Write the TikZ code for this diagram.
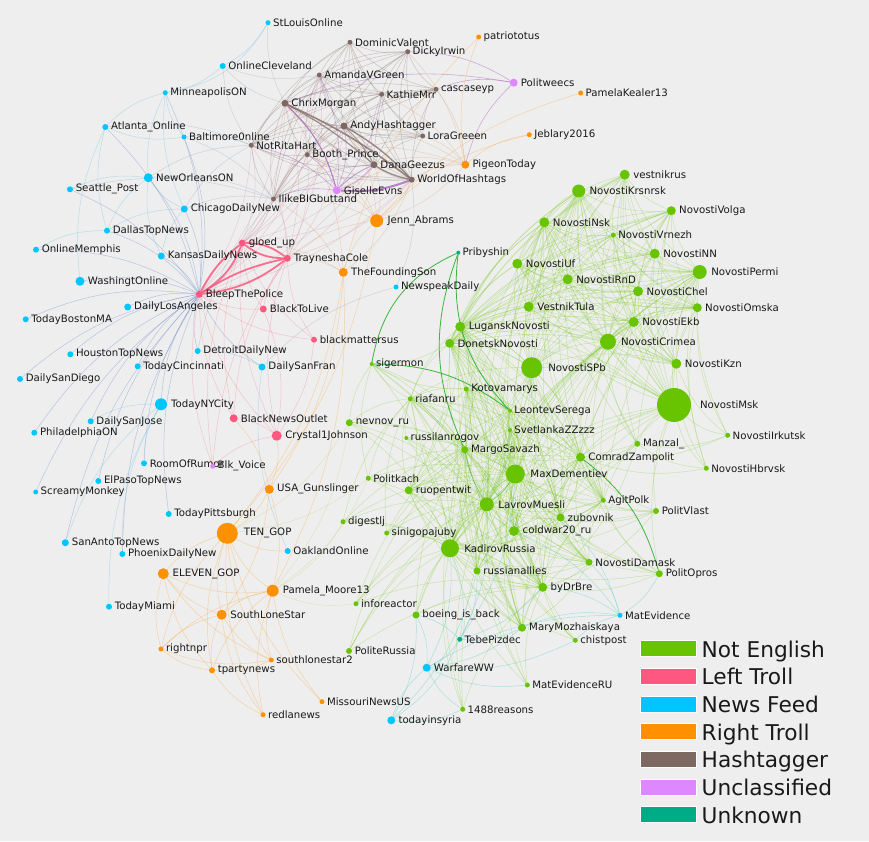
\documentclass[tikz,border=0pt]{standalone}
\usepackage{fontspec}
\setmainfont{DejaVu Sans}
\pgfdeclarelayer{bg}
\pgfsetlayers{bg,main}
\definecolor{bgc}{RGB}{238,238,238}
\definecolor{cG}{RGB}{104,196,0}
\definecolor{cP}{RGB}{255,88,128}
\definecolor{cB}{RGB}{0,198,255}
\definecolor{cO}{RGB}{255,145,0}
\definecolor{cH}{RGB}{126,104,98}
\definecolor{cV}{RGB}{222,136,255}
\definecolor{cT}{RGB}{0,172,134}
\definecolor{txt}{RGB}{25,25,25}
\tikzset{
  dot/.style={circle,inner sep=0pt,outer sep=0pt,draw=none},
  lbl/.style={inner sep=0pt,text=txt,font=\fontsize{10.2}{12}\selectfont},
  eG/.style={draw=cG,draw opacity=0.28,line width=0.5pt},
  eGd/.style={draw={rgb,255:red,40;green,175;blue,40},draw opacity=0.9,line width=0.8pt},
  eH/.style={draw=cH,draw opacity=0.32,line width=0.5pt},
  eV/.style={draw={rgb,255:red,170;green,100;blue,190},draw opacity=0.5,line width=0.6pt},
  eHP/.style={draw={rgb,255:red,200;green,120;blue,140},draw opacity=0.28,line width=0.5pt},
  eHO/.style={draw={rgb,255:red,215;green,150;blue,100},draw opacity=0.32,line width=0.5pt},
  eP/.style={draw=cP,draw opacity=0.3,line width=0.5pt},
  ePk/.style={draw=cP,draw opacity=0.85,line width=1.8pt},
  eB/.style={draw={rgb,255:red,120;green,200;blue,230},draw opacity=0.45,line width=0.5pt},
  eBP/.style={draw={rgb,255:red,110;green,130;blue,200},draw opacity=0.4,line width=0.5pt},
  eBH/.style={draw={rgb,255:red,120;green,150;blue,170},draw opacity=0.3,line width=0.5pt},
  eO/.style={draw=cO,draw opacity=0.3,line width=0.5pt},
  eOG/.style={draw={rgb,255:red,190;green,190;blue,60},draw opacity=0.25,line width=0.5pt},
  eT/.style={draw={rgb,255:red,90;green,205;blue,195},draw opacity=0.45,line width=0.5pt},
  legbox/.style={rectangle,minimum width=56pt,minimum height=16pt,inner sep=0pt,draw=white,line width=1pt},
  legtxt/.style={inner sep=0pt,anchor=base west,text=txt,font=\fontsize{21.7}{24}\selectfont}
}
\newcommand\nd[6]{\pgfmathsetmacro\ldist{0.45*#5+1.2}%
  \node[dot,fill=#6,minimum size={2*#5pt},label={[lbl,label distance=\ldist pt]0:#2}] (#1) at (#3,#4) {};}
\newcommand\clq[2]{\foreach \ea [count=\ci] in {#2}{\foreach \eb [count=\cj] in {#2}{\ifnum\cj>\ci\relax\draw[#1] (\ea) to[bend right=15] (\eb);\fi}}}
\newcommand\bip[3]{\foreach \ea in {#2}{\foreach \eb in {#3}{\draw[#1] (\ea) to[bend right=15] (\eb);}}}
\begin{document}
\begin{tikzpicture}[x=1pt,y=-1pt]
\useasboundingbox (0,0) rectangle (869,841);
\begin{pgfonlayer}{bg}
\fill[bgc] (0,0) rectangle (869,841);
\end{pgfonlayer}
% ---------- news feed
\nd{StLouisOnline}{StLouisOnline}{268}{22.7}{2.5}{cB}
\nd{OnlineCleveland}{OnlineCleveland}{222.7}{66}{3}{cB}
\nd{MinneapolisON}{MinneapolisON}{165.3}{92.7}{2.5}{cB}
\nd{Atlanta_Online}{Atlanta\_Online}{105.3}{127}{3}{cB}
\nd{Baltimore0nline}{Baltimore0nline}{184}{137}{2.5}{cB}
\nd{NewOrleansON}{NewOrleansON}{148.3}{177.7}{4.5}{cB}
\nd{Seattle_Post}{Seattle\_Post}{70}{189.3}{3}{cB}
\nd{ChicagoDailyNew}{ChicagoDailyNew}{184.3}{209}{3.5}{cB}
\nd{DallasTopNews}{DallasTopNews}{107}{230.7}{3}{cB}
\nd{OnlineMemphis}{OnlineMemphis}{36}{249.7}{3}{cB}
\nd{KansasDailyNews}{KansasDailyNews}{161.3}{256}{3.5}{cB}
\nd{WashingtOnline}{WashingtOnline}{80}{281.3}{4.5}{cB}
\nd{DailyLosAngeles}{DailyLosAngeles}{127.7}{307}{3.5}{cB}
\nd{TodayBostonMA}{TodayBostonMA}{25.7}{319.3}{3}{cB}
\nd{HoustonTopNews}{HoustonTopNews}{70.3}{354.3}{3}{cB}
\nd{DetroitDailyNew}{DetroitDailyNew}{197.7}{351}{3}{cB}
\nd{TodayCincinnati}{TodayCincinnati}{137.7}{366.3}{3}{cB}
\nd{DailySanFran}{DailySanFran}{262}{367}{3.5}{cB}
\nd{DailySanDiego}{DailySanDiego}{20}{379}{3}{cB}
\nd{TodayNYCity}{TodayNYCity}{161}{404.3}{6}{cB}
\nd{DailySanJose}{DailySanJose}{90.7}{421.3}{3}{cB}
\nd{PhiladelphiaON}{PhiladelphiaON}{34.3}{432.7}{3}{cB}
\nd{RoomOfRumor}{RoomOfRumor}{144}{463.3}{3}{cB}
\nd{ElPasoTopNews}{ElPasoTopNews}{98.3}{481}{3}{cB}
\nd{ScreamyMonkey}{ScreamyMonkey}{35.7}{492}{2.5}{cB}
\nd{TodayPittsburgh}{TodayPittsburgh}{168.7}{514}{3}{cB}
\nd{SanAntoTopNews}{SanAntoTopNews}{65.3}{542.7}{3.5}{cB}
\nd{PhoenixDailyNew}{PhoenixDailyNew}{122.3}{554}{3}{cB}
\nd{OaklandOnline}{OaklandOnline}{287.7}{551}{3}{cB}
\nd{TodayMiami}{TodayMiami}{109}{606.7}{3}{cB}
\nd{NewspeakDaily}{NewspeakDaily}{396}{287}{2.5}{cB}
\nd{MatEvidence}{MatEvidence}{620}{615.3}{2.5}{cB}
\nd{WarfareWW}{WarfareWW}{426.7}{667.7}{4}{cB}
\nd{todayinsyria}{todayinsyria}{391.3}{720.3}{4}{cB}
% ---------- left troll
\nd{gloed_up}{gloed\_up}{242.3}{243}{3.5}{cP}
\nd{TrayneshaCole}{TrayneshaCole}{287.3}{258.3}{3.5}{cP}
\nd{BleepThePolice}{BleepThePolice}{199.3}{294.3}{3.5}{cP}
\nd{BlackToLive}{BlackToLive}{263.3}{309}{3.5}{cP}
\nd{blackmattersus}{blackmattersus}{314}{339.7}{3}{cP}
\nd{BlackNewsOutlet}{BlackNewsOutlet}{233.7}{418.3}{4}{cP}
\nd{Crystal1Johnson}{Crystal1Johnson}{276.7}{435.7}{5}{cP}
% ---------- hashtagger
\nd{DominicValent}{DominicValent}{350}{42.3}{2.5}{cH}
\nd{DickyIrwin}{DickyIrwin}{407.7}{51.7}{2.5}{cH}
\nd{AmandaVGreen}{AmandaVGreen}{319.3}{75}{2.5}{cH}
\nd{KathieMrr}{KathieMrr}{381.7}{94.3}{2.5}{cH}
\nd{cascaseyp}{cascaseyp}{436}{89.3}{2.5}{cH}
\nd{ChrixMorgan}{ChrixMorgan}{285}{103.3}{3.5}{cH}
\nd{AndyHashtagger}{AndyHashtagger}{344}{126}{3.5}{cH}
\nd{LoraGreeen}{LoraGreeen}{422.7}{136}{2.5}{cH}
\nd{NotRitaHart}{NotRitaHart}{251.3}{145.3}{2.5}{cH}
\nd{Booth_Prince}{Booth\_Prince}{307.3}{154.7}{2.5}{cH}
\nd{DanaGeezus}{DanaGeezus}{374}{164.7}{3.5}{cH}
\nd{WorldOfHashtags}{WorldOfHashtags}{411.7}{179.7}{3}{cH}
\nd{IlikeBIGbuttand}{IlikeBIGbuttand}{273.5}{199}{2.5}{cH}
% ---------- unclassified
\nd{Politweecs}{Politweecs}{513.7}{82.7}{4}{cV}
\nd{GiselleEvns}{GiselleEvns}{336.7}{190.3}{4}{cV}
\nd{Blk_Voice}{Blk\_Voice}{212.7}{466.3}{2.5}{cV}
% ---------- right troll
\nd{patriototus}{patriototus}{478.7}{37}{2.5}{cO}
\nd{PamelaKealer13}{PamelaKealer13}{580.7}{93}{2.5}{cO}
\nd{Jeblary2016}{Jeblary2016}{529.3}{134.7}{2.5}{cO}
\nd{PigeonToday}{PigeonToday}{465.3}{164.7}{4}{cO}
\nd{Jenn_Abrams}{Jenn\_Abrams}{376.7}{220.7}{6.5}{cO}
\nd{TheFoundingSon}{TheFoundingSon}{343.3}{272.3}{4.5}{cO}
\nd{USA_Gunslinger}{USA\_Gunslinger}{269.3}{489.3}{4.5}{cO}
\nd{TEN_GOP}{TEN\_GOP}{227.3}{533.3}{10.5}{cO}
\nd{ELEVEN_GOP}{ELEVEN\_GOP}{163.3}{573.7}{5.5}{cO}
\nd{Pamela_Moore13}{Pamela\_Moore13}{272.7}{590.7}{6}{cO}
\nd{SouthLoneStar}{SouthLoneStar}{221.7}{614.7}{5}{cO}
\nd{rightnpr}{rightnpr}{161}{649}{2.5}{cO}
\nd{southlonestar2}{southlonestar2}{271.3}{660}{2.5}{cO}
\nd{tpartynews}{tpartynews}{212}{670.3}{3}{cO}
\nd{redlanews}{redlanews}{263}{714.7}{2.5}{cO}
\nd{MissouriNewsUS}{MissouriNewsUS}{322}{701.7}{2.5}{cO}
% ---------- unknown
\nd{Pribyshin}{Pribyshin}{458.3}{252.7}{2}{cT}
\nd{TebePizdec}{TebePizdec}{459.7}{639.3}{2.5}{cT}
% ---------- not english
\nd{vestnikrus}{vestnikrus}{624.7}{174.7}{5}{cG}
\nd{NovostiKrsnrsk}{NovostiKrsnrsk}{578.7}{191}{6.5}{cG}
\nd{NovostiVolga}{NovostiVolga}{671.3}{210.7}{4.5}{cG}
\nd{NovostiNsk}{NovostiNsk}{544.3}{222.3}{5}{cG}
\nd{NovostiVrnezh}{NovostiVrnezh}{613.3}{235}{2.5}{cG}
\nd{NovostiNN}{NovostiNN}{654.7}{253.7}{5}{cG}
\nd{NovostiUf}{NovostiUf}{517.3}{263.7}{5}{cG}
\nd{NovostiPermi}{NovostiPermi}{699.7}{272}{7}{cG}
\nd{NovostiRnD}{NovostiRnD}{567.7}{279.3}{5}{cG}
\nd{NovostiChel}{NovostiChel}{638}{291.3}{5}{cG}
\nd{VestnikTula}{VestnikTula}{528.7}{306.7}{5}{cG}
\nd{NovostiOmska}{NovostiOmska}{697.3}{307.7}{4.5}{cG}
\nd{NovostiEkb}{NovostiEkb}{633.7}{322}{5}{cG}
\nd{LuganskNovosti}{LuganskNovosti}{460.3}{326.7}{5}{cG}
\nd{NovostiCrimea}{NovostiCrimea}{608}{341.7}{8}{cG}
\nd{DonetskNovosti}{DonetskNovosti}{449.7}{343.3}{4.5}{cG}
\nd{NovostiKzn}{NovostiKzn}{676.3}{363.7}{5}{cG}
\nd{NovostiSPb}{NovostiSPb}{531.7}{367.7}{10.5}{cG}
\nd{sigermon}{sigermon}{371.7}{364}{2}{cG}
\nd{Kotovamarys}{Kotovamarys}{466.3}{389}{2.5}{cG}
\nd{riafanru}{riafanru}{410.3}{398.7}{2.5}{cG}
\nd{NovostiMsk}{NovostiMsk}{674}{405}{17}{cG}
\nd{LeontevSerega}{LeontevSerega}{510}{410.7}{2}{cG}
\nd{nevnov_ru}{nevnov\_ru}{349.3}{422.7}{3.5}{cG}
\nd{SvetlankaZZzzz}{SvetlankaZZzzz}{510}{430}{2}{cG}
\nd{NovostiIrkutsk}{NovostiIrkutsk}{727.7}{435.3}{2.5}{cG}
\nd{russilanrogov}{russilanrogov}{406.3}{438}{2}{cG}
\nd{Manzal_}{Manzal\_}{637.3}{443.7}{3}{cG}
\nd{MargoSavazh}{MargoSavazh}{464.7}{449.7}{3.5}{cG}
\nd{ComradZampolit}{ComradZampolit}{580.5}{457.2}{4.5}{cG}
\nd{MaxDementiev}{MaxDementiev}{515.3}{474}{9.5}{cG}
\nd{NovostiHbrvsk}{NovostiHbrvsk}{706.3}{468.3}{2.5}{cG}
\nd{Politkach}{Politkach}{368.3}{478.3}{2.5}{cG}
\nd{ruopentwit}{ruopentwit}{408.7}{490.3}{4}{cG}
\nd{AgitPolk}{AgitPolk}{603.3}{500.3}{2.5}{cG}
\nd{LavrovMuesli}{LavrovMuesli}{486.8}{504.3}{7}{cG}
\nd{PolitVlast}{PolitVlast}{656}{511}{3}{cG}
\nd{zubovnik}{zubovnik}{560.5}{517.5}{4}{cG}
\nd{digestlj}{digestlj}{343}{521.7}{2.5}{cG}
\nd{coldwar20_ru}{coldwar20\_ru}{514}{531}{5}{cG}
\nd{sinigopajuby}{sinigopajuby}{386.7}{533}{2.5}{cG}
\nd{KadirovRussia}{KadirovRussia}{450}{548.3}{9}{cG}
\nd{NovostiDamask}{NovostiDamask}{589}{562.3}{3.5}{cG}
\nd{russianallies}{russianallies}{477}{571}{3.5}{cG}
\nd{PolitOpros}{PolitOpros}{659.3}{573.7}{3.5}{cG}
\nd{byDrBre}{byDrBre}{542.7}{587.3}{4.5}{cG}
\nd{inforeactor}{inforeactor}{356}{603.7}{2.5}{cG}
\nd{boeing_is_back}{boeing\_is\_back}{416}{615}{3.5}{cG}
\nd{MaryMozhaiskaya}{MaryMozhaiskaya}{522}{627.7}{4}{cG}
\nd{chistpost}{chistpost}{575.3}{640.3}{2.5}{cG}
\nd{PoliteRussia}{PoliteRussia}{349}{651}{3}{cG}
\nd{MatEvidenceRU}{MatEvidenceRU}{527.3}{685}{2.5}{cG}
\nd{1488reasons}{1488reasons}{462.7}{709.3}{2.5}{cG}
% ---------- legend
\foreach \t/\c [count=\k] in {Not English/cG,Left Troll/cP,News Feed/cB,Right Troll/cO,Hashtagger/cH,Unclassified/cV,Unknown/cT}{
  \node[legbox,fill=\c] (lb\k) at (668,{648.7+27.67*(\k-1)}) {};
  \node[legtxt] (lt\k) at (701.5,{657.3+27.67*(\k-1)}) {\t};
}
% ---------- edges
\begin{pgfonlayer}{bg}
% hashtagger cluster
\clq{eH}{DominicValent,DickyIrwin,AmandaVGreen,KathieMrr,cascaseyp,ChrixMorgan,AndyHashtagger,LoraGreeen,NotRitaHart,Booth_Prince,DanaGeezus,WorldOfHashtags,IlikeBIGbuttand}
\bip{eV}{GiselleEvns}{ChrixMorgan,AndyHashtagger,DanaGeezus,Booth_Prince,NotRitaHart,AmandaVGreen,KathieMrr,IlikeBIGbuttand}
\draw[eH,draw opacity=0.75,line width=1.6pt] (WorldOfHashtags) to[bend right=6] (ChrixMorgan);
\draw[eH,draw opacity=0.7,line width=1.2pt] (DanaGeezus) to[bend right=6] (ChrixMorgan);
\draw[eH,draw opacity=0.75,line width=1.4pt] (WorldOfHashtags) to[bend right=8] (AndyHashtagger);
\draw[eH,draw opacity=0.6,line width=1pt] (DanaGeezus) to[bend right=8] (AndyHashtagger);
\draw[eH,draw opacity=0.7,line width=1.2pt] (DanaGeezus) to[bend right=10] (WorldOfHashtags);
\draw[eV,draw opacity=0.8,line width=2pt] (GiselleEvns) to[bend right=12] (WorldOfHashtags);
\draw[eV,draw opacity=0.7,line width=1pt] (GiselleEvns) to[bend right=15] (ChrixMorgan);
\draw[eV,draw opacity=0.6,line width=0.9pt] (GiselleEvns) to[bend left=10] (DanaGeezus);
\bip{eV}{Politweecs}{cascaseyp,ChrixMorgan,DickyIrwin,PigeonToday}
% orange to hashtag
\bip{eHO}{PigeonToday}{cascaseyp,LoraGreeen,DickyIrwin,WorldOfHashtags,DanaGeezus,AndyHashtagger,KathieMrr,GiselleEvns,Booth_Prince}
\bip{eHO}{Jenn_Abrams}{WorldOfHashtags,DanaGeezus,Booth_Prince,ChrixMorgan,IlikeBIGbuttand,GiselleEvns,PigeonToday,TrayneshaCole,TheFoundingSon,AndyHashtagger}
\bip{eO}{patriototus}{PigeonToday,TheFoundingSon}
\bip{eO}{PamelaKealer13}{Jenn_Abrams}
\bip{eO}{Jeblary2016}{PigeonToday,Jenn_Abrams}
\bip{eHO}{TheFoundingSon}{WorldOfHashtags,TrayneshaCole,gloed_up,ChrixMorgan,IlikeBIGbuttand}
% pink cluster
\draw[ePk] (gloed_up) to[bend right=18] (TrayneshaCole);
\draw[ePk] (gloed_up) to[bend left=18] (TrayneshaCole);
\draw[ePk] (BleepThePolice) to[bend right=18] (gloed_up);
\draw[ePk] (BleepThePolice) to[bend left=12] (gloed_up);
\draw[ePk] (BleepThePolice) to[bend right=15] (TrayneshaCole);
\draw[ePk] (BleepThePolice) to[bend left=10] (TrayneshaCole);
\bip{eP}{gloed_up,TrayneshaCole,BleepThePolice}{BlackToLive,blackmattersus,BlackNewsOutlet,Crystal1Johnson,Blk_Voice}
\bip{eP}{Crystal1Johnson}{BlackToLive,BlackNewsOutlet,blackmattersus,Blk_Voice}
\bip{eHP}{TrayneshaCole,gloed_up,BleepThePolice}{ChrixMorgan,AndyHashtagger,NotRitaHart,Booth_Prince,IlikeBIGbuttand,DanaGeezus,WorldOfHashtags,AmandaVGreen}
% news feed
\bip{eBP}{BleepThePolice}{WashingtOnline,DailyLosAngeles,TodayBostonMA,HoustonTopNews,TodayCincinnati,DailySanDiego,DetroitDailyNew,TodayNYCity,DailySanJose,PhiladelphiaON,ElPasoTopNews,ScreamyMonkey,RoomOfRumor,TodayPittsburgh,KansasDailyNews,DallasTopNews,NewOrleansON,ChicagoDailyNew,Seattle_Post,OnlineMemphis,Atlanta_Online,Baltimore0nline,MinneapolisON,SanAntoTopNews,PhoenixDailyNew,DailySanFran}
\draw[eB] (MinneapolisON) to[bend right=25] (StLouisOnline);
\draw[eB] (OnlineCleveland) to[bend right=15] (StLouisOnline);
\bip{eB}{MinneapolisON}{Atlanta_Online,NewOrleansON,Baltimore0nline,ChicagoDailyNew,OnlineCleveland}
\bip{eB}{Atlanta_Online}{Baltimore0nline,DallasTopNews,WashingtOnline}
\bip{eB}{NewOrleansON}{Seattle_Post,ChicagoDailyNew,KansasDailyNews,DallasTopNews}
\bip{eB}{ChicagoDailyNew}{DallasTopNews,KansasDailyNews}
\bip{eB}{DallasTopNews}{OnlineMemphis}
\bip{eB}{TodayNYCity}{TodayMiami,SanAntoTopNews,PhoenixDailyNew,DailySanJose,RoomOfRumor}
\bip{eB}{DailySanFran}{OaklandOnline,DetroitDailyNew}
\bip{eBH}{OnlineCleveland}{NotRitaHart,ChrixMorgan,AmandaVGreen}
\bip{eBH}{NotRitaHart}{Baltimore0nline,NewOrleansON,ChicagoDailyNew,Atlanta_Online}
\bip{eBH}{IlikeBIGbuttand}{NewOrleansON,ChicagoDailyNew,Seattle_Post,Baltimore0nline,DetroitDailyNew}
\bip{eBH}{StLouisOnline}{ChrixMorgan}
\bip{eBH}{NewspeakDaily}{WorldOfHashtags,DailySanFran}
% right troll cluster
\clq{eO}{TEN_GOP,ELEVEN_GOP,Pamela_Moore13,SouthLoneStar,rightnpr,tpartynews,southlonestar2}
\bip{eO}{TEN_GOP}{USA_Gunslinger,redlanews,MissouriNewsUS,Jenn_Abrams,TheFoundingSon,OaklandOnline}
\bip{eO}{Pamela_Moore13}{MissouriNewsUS,USA_Gunslinger,redlanews,TheFoundingSon}
\bip{eO}{tpartynews}{redlanews}
\bip{eO}{SouthLoneStar}{redlanews,USA_Gunslinger}
\bip{eO}{USA_Gunslinger}{Crystal1Johnson,BlackNewsOutlet,TheFoundingSon}
\bip{eOG}{Pamela_Moore13}{nevnov_ru,Politkach,digestlj,inforeactor}
\bip{eOG}{TEN_GOP}{nevnov_ru,Politkach}
% not english
\clq{eG}{NovostiKrsnrsk,vestnikrus,NovostiNsk,NovostiVrnezh,NovostiVolga,NovostiUf,NovostiNN,NovostiRnD,NovostiPermi,VestnikTula,NovostiChel,NovostiOmska,NovostiEkb,NovostiCrimea,NovostiKzn,NovostiMsk,NovostiSPb,LuganskNovosti,DonetskNovosti}
\clq{eG}{MaxDementiev,LavrovMuesli,KadirovRussia,coldwar20_ru,zubovnik,ComradZampolit,AgitPolk,MargoSavazh,LeontevSerega,SvetlankaZZzzz,Kotovamarys,ruopentwit,russianallies,byDrBre,NovostiSPb,DonetskNovosti,LuganskNovosti,riafanru,MaryMozhaiskaya,NovostiDamask}
\bip{eG}{MaxDementiev,LavrovMuesli,KadirovRussia,MargoSavazh,byDrBre}{nevnov_ru,Politkach,digestlj,sinigopajuby,russilanrogov,boeing_is_back,inforeactor,PoliteRussia,chistpost,MatEvidenceRU,1488reasons,PolitVlast,PolitOpros,Manzal_,sigermon}
\bip{eG}{NovostiCrimea,NovostiMsk,NovostiKrsnrsk,NovostiPermi,NovostiEkb,NovostiNsk}{MaxDementiev,LavrovMuesli,KadirovRussia,ComradZampolit,AgitPolk,zubovnik,coldwar20_ru,Manzal_}
\bip{eG}{NovostiMsk,NovostiKzn,NovostiOmska,NovostiPermi,Manzal_,ComradZampolit}{NovostiIrkutsk,NovostiHbrvsk}
\bip{eG}{AgitPolk,zubovnik,ComradZampolit,NovostiMsk}{PolitVlast,PolitOpros}
\bip{eG}{sigermon}{riafanru,nevnov_ru,Politkach,DonetskNovosti,Kotovamarys}
\bip{eG}{riafanru}{nevnov_ru,russilanrogov,ruopentwit,Politkach,digestlj,sinigopajuby}
\draw[eGd] (Pribyshin) to[bend right=28] (sigermon);
\draw[eGd] (Pribyshin) to[bend right=22] (MargoSavazh);
\draw[eGd] (Pribyshin) to[bend right=25] (LeontevSerega);
\draw[eGd] (LeontevSerega) to[bend right=18] (sigermon);
\draw[eGd] (PolitOpros) to[bend right=18] (ComradZampolit);
\draw[eGd,line width=0.6pt,draw opacity=0.6] (LavrovMuesli) to[bend right=10] (MaxDementiev);
\draw[eGd,line width=0.6pt,draw opacity=0.6] (MargoSavazh) to[bend right=10] (LavrovMuesli);
% unknown / news feed around the green
\bip{eT}{MatEvidence}{byDrBre,NovostiDamask,chistpost,WarfareWW,MaryMozhaiskaya,PolitOpros,coldwar20_ru,zubovnik}
\bip{eT}{WarfareWW}{todayinsyria,TebePizdec,1488reasons,chistpost,boeing_is_back,MaryMozhaiskaya,KadirovRussia,MatEvidenceRU}
\bip{eT}{todayinsyria}{TebePizdec,1488reasons,russianallies,boeing_is_back}
\bip{eT}{TebePizdec}{KadirovRussia,russianallies,byDrBre,MaxDementiev,LavrovMuesli,boeing_is_back,MaryMozhaiskaya}
\end{pgfonlayer}
\end{tikzpicture}
\end{document}
